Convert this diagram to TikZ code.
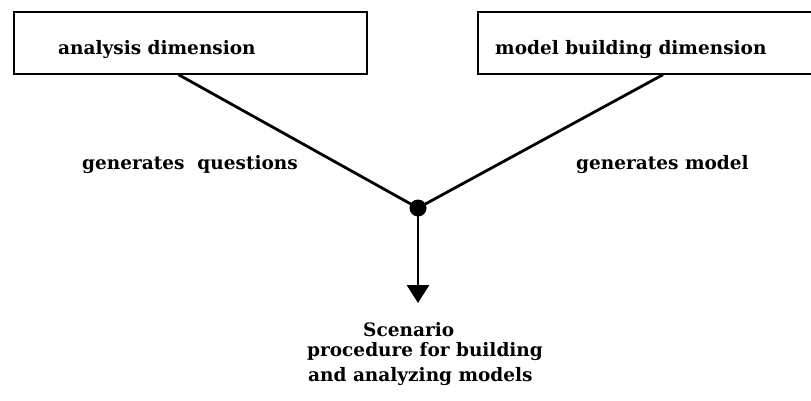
\documentclass[tikz,border=0pt]{standalone}
\usepackage{fontspec}
\setmainfont{DejaVu Serif}
\usetikzlibrary{arrows.meta,calc}
\begin{document}
\begin{tikzpicture}[x=1pt,y=-1pt,
  box/.style={draw,line width=1.3pt,minimum height=62pt,inner sep=0pt},
  lbl/.style={font=\fontsize{18.5}{22}\selectfont\bfseries,inner sep=0pt},
  conn/.style={line width=2.8pt}]
\useasboundingbox (0,0) rectangle (811,400);
\begin{scope}
\clip (0,0) rectangle (811,400);
\node[box,minimum width=353pt] (a) at (190.5,43) {};
\node[box,minimum width=370pt] (m) at (663,43) {};
\end{scope}
\node[lbl,anchor=west] (at) at (58,50) {analysis dimension};
\node[lbl,anchor=west] (mt) at (495,50) {model building dimension};
\node[circle,fill=black,minimum size=17pt,inner sep=0pt] (d) at (418,208) {};
\coordinate (as) at ($(a.south)+(-12,0)$);
\draw[conn] (as) -- (d.center);
\draw[conn] (m.south) -- (d.center);
\coordinate (tip) at (418,303);
\draw[conn,-{Triangle[length=18pt,width=22pt]}] (d.center) -- (tip);
\node[lbl,anchor=west] (q) at (82,165) {generates\ \ questions};
\node[lbl,anchor=west] (g) at (576,165) {generates model};
\node[lbl,anchor=west] (s) at (363,330) {Scenario};
\node[lbl,anchor=west] (p) at (307,352) {procedure for building};
\node[lbl,anchor=west] (n) at (308,377) {and analyzing models};
\end{tikzpicture}
\end{document}
